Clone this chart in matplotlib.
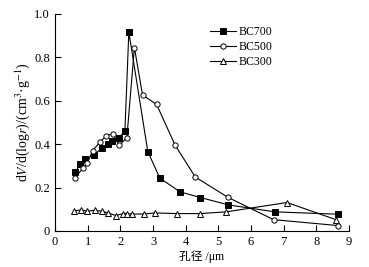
import matplotlib.pyplot as plt

plt.rcParams['font.family'] = ['Liberation Serif', 'Noto Sans CJK SC']
plt.rcParams['mathtext.fontset'] = 'stix'

x700 = [0.62, 0.78, 0.93, 1.18, 1.43, 1.63, 1.76, 1.96, 2.14, 2.26, 2.84, 3.21, 3.83, 4.45, 5.31, 6.73, 8.67]
y700 = [0.27, 0.31, 0.33, 0.35, 0.38, 0.40, 0.415, 0.43, 0.46, 0.917, 0.366, 0.243, 0.18, 0.154, 0.12, 0.088, 0.077]

x500 = [0.60, 0.86, 0.99, 1.15, 1.38, 1.56, 1.77, 1.97, 2.20, 2.43, 2.68, 3.11, 3.67, 4.29, 5.29, 6.69, 8.65]
y500 = [0.242, 0.29, 0.312, 0.37, 0.41, 0.438, 0.448, 0.394, 0.43, 0.845, 0.626, 0.583, 0.397, 0.249, 0.155, 0.052, 0.025]

x300 = [0.58, 0.81, 0.98, 1.21, 1.44, 1.62, 1.87, 2.08, 2.19, 2.36, 2.71, 3.05, 3.74, 4.44, 5.24, 7.10, 8.60]
y300 = [0.092, 0.097, 0.091, 0.095, 0.091, 0.083, 0.071, 0.080, 0.080, 0.078, 0.078, 0.083, 0.080, 0.080, 0.088, 0.131, 0.052]

fig = plt.figure(figsize=(3.69, 2.67), dpi=100)
ax = fig.add_axes([0.149, 0.135, 0.797, 0.813])

kw = dict(color='black', lw=0.8, markersize=3.8, markeredgewidth=0.7)
ax.plot(x700, y700, marker='s', markerfacecolor='black', label='BC700', **kw)
ax.plot(x500, y500, marker='o', markerfacecolor='white', label='BC500', **kw)
ax.plot(x300, y300, marker='^', markerfacecolor='white', label='BC300', **kw)

ax.set_xlim(0, 9)
ax.set_ylim(0, 1.0)
ax.set_xticks(range(10))
ax.set_yticks([0, 0.2, 0.4, 0.6, 0.8, 1.0])
ax.set_yticklabels(['0', '0.2', '0.4', '0.6', '0.8', '1.0'])
ax.spines['top'].set_visible(False)
ax.spines['right'].set_visible(False)
ax.spines['left'].set_linewidth(0.8)
ax.spines['bottom'].set_linewidth(0.8)
ax.tick_params(direction='in', length=4, width=0.8, labelsize=9)

ax.set_xlabel('孔径 /μm', fontsize=8.5, labelpad=2)
ax.set_ylabel(r'd$V$/d(log$r$)/(cm$^3$·g$^{-1}$)', fontsize=10, labelpad=2)

ax.legend(loc='upper left', bbox_to_anchor=(0.5, 0.98), frameon=False,
          fontsize=8.5, handlelength=2.2, handletextpad=0.2, labelspacing=0.25,
          borderpad=0.2)

fig.savefig('out.png', dpi=100)
